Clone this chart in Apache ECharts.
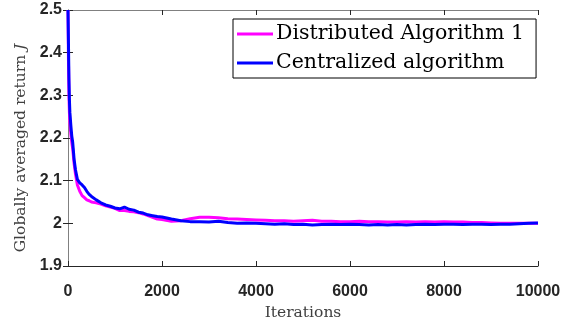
<!DOCTYPE html>
<html>
<head>
<meta charset="utf-8">
<script src="https://cdn.jsdelivr.net/npm/echarts@6/dist/echarts.min.js"></script>
<style>
  html, body { margin: 0; padding: 0; background: #fff; }
  #chart { width: 577px; height: 326px; }
</style>
</head>
<body>
<div id="chart"></div>
<script>
// iteration points (denser at the start where the curves drop fast)
const iters = [0, 10, 20, 30, 40, 60, 80, 100, 130, 160, 200, 250, 300, 350, 400, 450, 500,
  600, 700, 800, 900, 1000, 1100, 1200, 1300, 1400, 1500, 1600, 1700, 1800, 1900, 2000,
  2200, 2400, 2600, 2800, 3000, 3200, 3400, 3600, 3800, 4000, 4200, 4400, 4600, 4800, 5000,
  5200, 5400, 5600, 5800, 6000, 6200, 6400, 6600, 6800, 7000, 7200, 7400, 7600, 7800, 8000,
  8200, 8400, 8600, 8800, 9000, 9200, 9400, 9600, 9800, 10000];

const distributed = [2.50, 2.38, 2.30, 2.26, 2.235, 2.21, 2.19, 2.175, 2.14, 2.115, 2.09, 2.075, 2.065, 2.06, 2.055, 2.053, 2.05,
  2.048, 2.045, 2.041, 2.038, 2.035, 2.03, 2.03, 2.028, 2.027, 2.025, 2.022, 2.018, 2.014, 2.01, 2.009,
  2.005, 2.006, 2.011, 2.014, 2.014, 2.013, 2.011, 2.01, 2.009, 2.008, 2.007, 2.006, 2.006, 2.005, 2.006,
  2.007, 2.005, 2.005, 2.004, 2.004, 2.005, 2.004, 2.004, 2.003, 2.003, 2.004, 2.003, 2.004, 2.003, 2.004,
  2.003, 2.003, 2.002, 2.002, 2.001, 2.0, 2.0, 2.0, 2.0, 2.0];

const centralized = [2.50, 2.42, 2.34, 2.29, 2.26, 2.23, 2.205, 2.19, 2.15, 2.125, 2.103, 2.095, 2.09, 2.084, 2.075, 2.068, 2.063,
  2.055, 2.048, 2.043, 2.04, 2.036, 2.034, 2.038, 2.033, 2.031, 2.026, 2.024, 2.02, 2.018, 2.016, 2.015,
  2.01, 2.006, 2.004, 2.004, 2.003, 2.005, 2.002, 2.0, 2.001, 2.0, 1.999, 1.998, 1.999, 1.997, 1.998,
  1.996, 1.997, 1.998, 1.997, 1.998, 1.997, 1.996, 1.997, 1.996, 1.997, 1.996, 1.997, 1.998, 1.997, 1.998,
  1.998, 1.997, 1.998, 1.998, 1.997, 1.998, 1.998, 1.999, 2.0, 2.001];

const seriesNames = ['Distributed Algorithm 1', 'Centralized algorithm'];

const pairs = (ys) => iters.map((x, i) => [x, ys[i]]);

const chart = echarts.init(document.getElementById('chart'));

const serif = 'DejaVu Serif, serif';
const tickFont = {
  fontFamily: 'Liberation Sans, Arial, sans-serif',
  fontWeight: 'bold',
  fontSize: 16,
  color: '#262626'
};

const option = {
  backgroundColor: '#fff',
  animation: false,
  grid: { left: 68, right: 39, top: 10, bottom: 51 },
  legend: {
    data: seriesNames,
    orient: 'vertical',
    left: 233,
    top: 19,
    padding: [3, 12, 3, 4],
    itemGap: 5,
    itemWidth: 36,
    itemHeight: 3,
    icon: 'rect',
    borderColor: '#000',
    borderWidth: 1,
    backgroundColor: '#fff',
    textStyle: {
      fontFamily: serif,
      fontSize: 20.5,
      lineHeight: 24,
      color: '#000',
      padding: [0, 0, 0, -2]
    }
  },
  xAxis: [{
    type: 'value',
    min: 0,
    max: 10000,
    interval: 2000,
    name: 'Iterations',
    nameLocation: 'middle',
    nameGap: 39,
    nameTextStyle: { fontFamily: serif, fontSize: 15.5, color: '#404040' },
    axisLine: { lineStyle: { color: '#262626', width: 1 } },
    axisTick: { inside: true, length: 5, lineStyle: { color: '#262626' } },
    axisLabel: Object.assign({ margin: 18, formatter: (v) => String(v) }, tickFont),
    splitLine: { show: false }
  }, {
    type: 'value',
    position: 'top',
    min: 0,
    max: 10000,
    interval: 2000,
    axisLine: { lineStyle: { color: '#808080', width: 1 } },
    axisTick: { inside: true, length: 5, lineStyle: { color: '#262626' } },
    axisLabel: { show: false },
    splitLine: { show: false }
  }],
  yAxis: [{
    type: 'value',
    min: 1.9,
    max: 2.5,
    interval: 0.1,
    name: '{t|Globally averaged return }{j|J}',
    nameLocation: 'middle',
    nameGap: 29,
    nameRotate: 90,
    nameTextStyle: {
      padding: [0, 20, 0, 0],
      rich: {
        t: { fontFamily: serif, fontSize: 15.5, color: '#404040' },
        j: { fontFamily: serif, fontSize: 15.5, fontStyle: 'italic', color: '#404040' }
      }
    },
    axisLine: { lineStyle: { color: '#808080', width: 1 } },
    axisTick: { inside: true, length: 5, lineStyle: { color: '#262626' } },
    axisLabel: Object.assign({ margin: 6, formatter: (v) => String(+v.toFixed(1)) }, tickFont),
    splitLine: { show: false }
  }, {
    type: 'value',
    position: 'right',
    min: 1.9,
    max: 2.5,
    interval: 0.1,
    axisLine: { lineStyle: { color: '#808080', width: 1 } },
    axisTick: { inside: true, length: 5, lineStyle: { color: '#262626' } },
    axisLabel: { show: false },
    splitLine: { show: false }
  }],
  series: [{
    name: seriesNames[0],
    type: 'line',
    data: pairs(distributed),
    showSymbol: false,
    lineStyle: { color: '#ff00ff', width: 3 },
    itemStyle: { color: '#ff00ff' }
  }, {
    name: seriesNames[1],
    type: 'line',
    data: pairs(centralized),
    showSymbol: false,
    lineStyle: { color: '#0000ff', width: 3 },
    itemStyle: { color: '#0000ff' }
  }]
};

chart.setOption(option);
</script>
</body>
</html>
